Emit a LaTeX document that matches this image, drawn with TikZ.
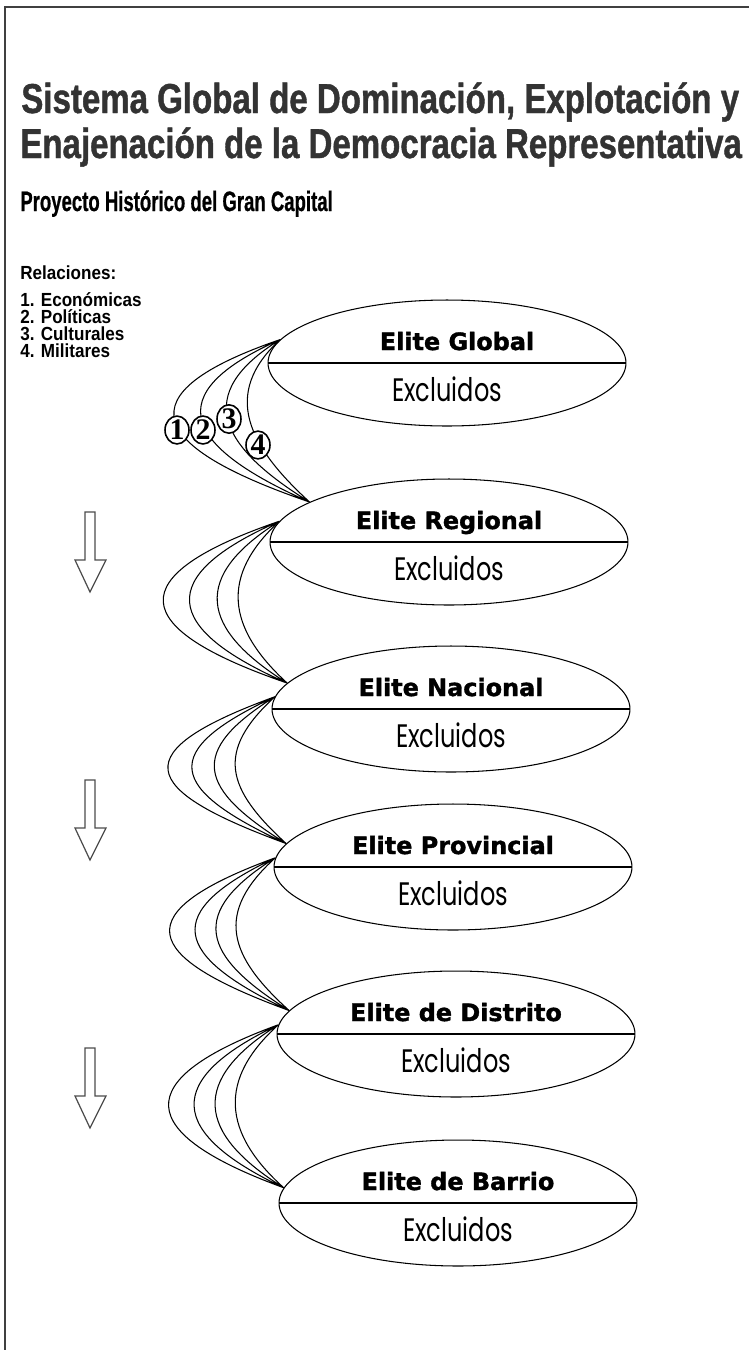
\documentclass[tikz,border=0pt]{standalone}
\usepackage{fontspec}
\setmainfont{Liberation Sans}
\newfontfamily\titlefont[FakeStretch=0.79, BoldFeatures={FakeBold=1}]{Liberation Sans}
\newfontfamily\subfont[FakeStretch=0.66, BoldFeatures={FakeBold=0.6}]{Liberation Sans}
\newfontfamily\narrowfont[FakeStretch=0.9]{Liberation Sans}
\newfontfamily\elitefont[BoldFeatures={FakeBold=1.5}]{DejaVu Sans}
\newfontfamily\exclfont[FakeStretch=0.74]{Poppins}
\newfontfamily\numfont{Liberation Serif}
\usetikzlibrary{shapes.geometric}

\begin{document}
\begin{tikzpicture}[x=0.02cm, y=-0.02cm,
  level/.style={ellipse, draw, line width=0.6pt, minimum width=7.16cm, minimum height=2.52cm, inner sep=0},
  elite/.style={anchor=base, inner sep=0, font=\elitefont\bfseries\fontsize{13.6}{14}\selectfont},
  excl/.style={anchor=base, inner sep=0, font=\exclfont\fontsize{18.5}{19}\selectfont},
  head/.style={anchor=base west, inner sep=0, text=black!80, font=\titlefont\bfseries\fontsize{23.8}{24}\selectfont},
  legend/.style={anchor=base west, inner sep=0, font=\narrowfont\bfseries\fontsize{10.8}{11}\selectfont},
  rel/.style={line width=0.6pt},
  num/.style={ellipse, draw, fill=white, line width=0.9pt, minimum width=0.48cm, minimum height=0.55cm, inner sep=0, font=\numfont\bfseries\fontsize{17}{17}\selectfont},
  downarrow/.style={draw=black!70, line width=0.7pt}]

\useasboundingbox (0,0) rectangle (749,1350);
\draw[line width=0.9pt, black!75] (749,7) -| (5,1350);

% titles
\node[head] (t1) at (21,113) {Sistema Global de Dominación, Explotación y};
\node[head] (t2) at (20,158) {Enajenación de la Democracia Representativa};
\node[anchor=base west, inner sep=0, font=\subfont\bfseries\fontsize{16}{17}\selectfont] (sub) at (20,211) {Proyecto Histórico del Gran Capital};

\node[legend] (rel) at (20,279) {Relaciones:};
\node[legend] (r1) at (20,306) {1. Económicas};
\node[legend] (r2) at (20,323) {2. Políticas};
\node[legend] (r3) at (20,340) {3. Culturales};
\node[legend] (r4) at (20,357) {4. Militares};

% levels
\node[level] (G) at (447,363) {};
\node[level] (R) at (449,542) {};
\node[level] (N) at (451,709) {};
\node[level] (P) at (453,867) {};
\node[level] (D) at (456,1034) {};
\node[level] (B) at (458,1203) {};

\draw[rel] (G.west) -- (G.east);
\draw[rel] (R.west) -- (R.east);
\draw[rel] (N.west) -- (N.east);
\draw[rel] (P.west) -- (P.east);
\draw[rel] (D.west) -- (D.east);
\draw[rel] (B.west) -- (B.east);

\node[elite] (G-e) at (457,350) {Elite Global};
\node[excl] (G-x) at (447,401) {Excluidos};
\node[elite] (R-e) at (449,529) {Elite Regional};
\node[excl] (R-x) at (449,580) {Excluidos};
\node[elite] (N-e) at (451,696) {Elite Nacional};
\node[excl] (N-x) at (451,747) {Excluidos};
\node[elite] (P-e) at (453,854) {Elite Provincial};
\node[excl] (P-x) at (453,905) {Excluidos};
\node[elite] (D-e) at (456,1021) {Elite de Distrito};
\node[excl] (D-x) at (456,1072) {Excluidos};
\node[elite] (B-e) at (458,1190) {Elite de Barrio};
\node[excl] (B-x) at (458,1241) {Excluidos};

% relations between levels
\draw[rel] (G.172) .. controls +(-160,55) and +(-160,-55) .. (R.164)
           (G.172) .. controls +(-124,55) and +(-124,-55) .. (R.164)
           (G.172) .. controls +(-89,55) and +(-89,-55) .. (R.164)
           (G.172) .. controls +(-60,55) and +(-60,-55) .. (R.164);
\draw[rel] (R.173) .. controls +(-160,55) and +(-160,-55) .. (N.171)
           (R.173) .. controls +(-125,55) and +(-125,-55) .. (N.171)
           (R.173) .. controls +(-88,55) and +(-88,-55) .. (N.171)
           (R.173) .. controls +(-60,55) and +(-60,-55) .. (N.171);
\draw[rel] (N.176) .. controls +(-150,55) and +(-150,-55) .. (P.172)
           (N.176) .. controls +(-118,55) and +(-118,-55) .. (P.172)
           (N.176) .. controls +(-88,55) and +(-88,-55) .. (P.172)
           (N.176) .. controls +(-60,55) and +(-60,-55) .. (P.172);
\draw[rel] (P.177) .. controls +(-150,55) and +(-150,-55) .. (D.172)
           (P.177) .. controls +(-116,55) and +(-116,-55) .. (D.172)
           (P.177) .. controls +(-88,55) and +(-88,-55) .. (D.172)
           (P.177) .. controls +(-61,55) and +(-61,-55) .. (D.172);
\draw[rel] (D.177) .. controls +(-150,55) and +(-150,-55) .. (B.175)
           (D.177) .. controls +(-116,55) and +(-116,-55) .. (B.175)
           (D.177) .. controls +(-88,55) and +(-88,-55) .. (B.175)
           (D.177) .. controls +(-61,55) and +(-61,-55) .. (B.175);

\node[num] (n1) at (177,430) {1};
\node[num] (n2) at (203,430) {2};
\node[num] (n3) at (229,419) {3};
\node[num] (n4) at (258,445) {4};

% down arrows
\draw[downarrow] (85,512) -- (95,512) -- (95,560) -- (106,560) -- (90,592) -- (75,560) -- (85,560) -- cycle;
\draw[downarrow] (85,780) -- (95,780) -- (95,828) -- (106,828) -- (90,860) -- (75,828) -- (85,828) -- cycle;
\draw[downarrow] (85,1048) -- (95,1048) -- (95,1096) -- (106,1096) -- (90,1128) -- (75,1096) -- (85,1096) -- cycle;

\end{tikzpicture}
\end{document}
